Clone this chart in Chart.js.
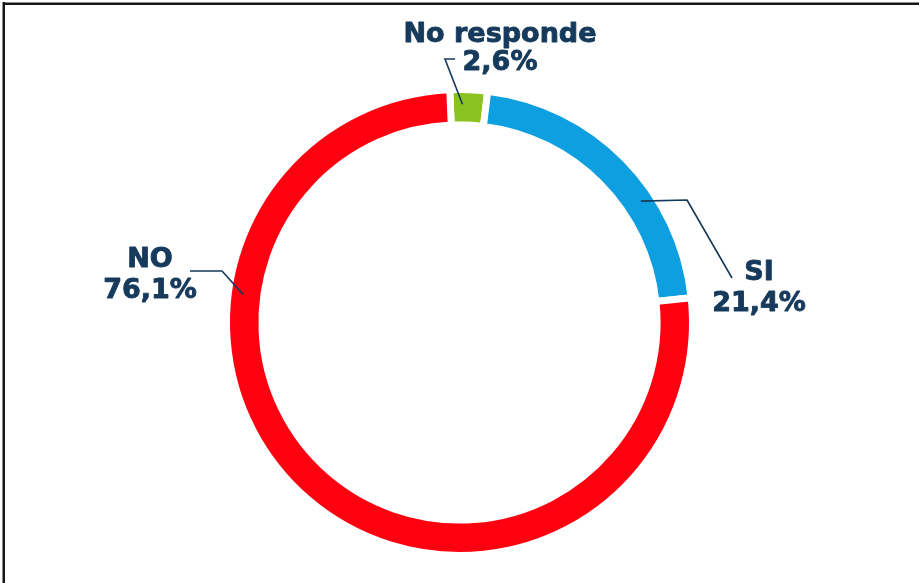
<!DOCTYPE html>
<html lang="es">
<head>
<meta charset="utf-8">
<title>Encuesta</title>
<script src="https://cdn.jsdelivr.net/npm/chart.js@4.4.1/dist/chart.umd.min.js"></script>
<style>
    html, body {
        margin: 0;
        padding: 0;
        width: 919px;
        height: 583px;
        background: #fff;
        overflow: hidden;
    }
    .frame-top, .frame-left {
        position: absolute;
        background: #161616;
    }
    .frame-top {
        left: 3px;
        top: 3px;
        width: 916px;
        height: 2px;
        border-top: 1px solid #8a8a8a;
        top: 2px;
    }
    .frame-left {
        left: 2px;
        top: 2px;
        width: 2px;
        height: 581px;
        border-left: 1px solid #8a8a8a;
    }
    .chart-box {
        position: absolute;
        left: 0;
        top: 0;
        width: 919px;
        height: 583px;
    }
</style>
</head>
<body>
<div class="frame-top"></div>
<div class="frame-left"></div>
<div class="chart-box">
    <canvas id="mainChart"></canvas>
</div>
<script>
// Respuestas de la encuesta (porcentaje)
const labels = ['No responde', 'SI', 'NO'];
const values = [2.6, 21.4, 76.1];
const colors = ['#8cc21f', '#0d9fe0', '#fe0010'];

// Posicion de cada etiqueta y de su linea guia
const calloutStyle = [
    { along: 0.34, elbow: [445, 59], end: [455, 59], cx: 500, y: 42, gap: 28 },
    { along: 0.64, elbow: [687, 200], end: [732, 278], cx: 759, y: 280, gap: 31 },
    { along: 0.707, elbow: [222, 271], end: [190, 271], cx: 150, y: 267, gap: 31 }
];

const textColor = '#153a5b';

const calloutPlugin = {
    id: 'callouts',
    afterDatasetsDraw(chart) {
        const ctx = chart.ctx;
        const arcs = chart.getDatasetMeta(0).data;

        ctx.save();
        arcs.forEach((arc, i) => {
            const p = arc.getProps(['x', 'y', 'startAngle', 'endAngle', 'innerRadius', 'outerRadius'], true);
            const s = calloutStyle[i];
            const angle = p.startAngle + (p.endAngle - p.startAngle) * s.along;
            const r = (p.innerRadius + p.outerRadius) / 2 + 3;
            const ax = p.x + r * Math.cos(angle);
            const ay = p.y + r * Math.sin(angle);

            ctx.beginPath();
            ctx.moveTo(ax, ay);
            ctx.lineTo(s.elbow[0], s.elbow[1]);
            ctx.lineTo(s.end[0], s.end[1]);
            ctx.strokeStyle = textColor;
            ctx.lineWidth = 1.6;
            ctx.stroke();

            const pct = values[i].toFixed(1).replace('.', ',') + '%';
            ctx.fillStyle = textColor;
            ctx.lineWidth = 0.9;
            ctx.lineJoin = 'round';
            ctx.font = 'bold 27px "DejaVu Sans"';
            ctx.textAlign = 'center';
            ctx.textBaseline = 'alphabetic';
            ctx.fillText(labels[i], s.cx, s.y);
            ctx.strokeText(labels[i], s.cx, s.y);
            ctx.fillText(pct, s.cx, s.y + s.gap);
            ctx.strokeText(pct, s.cx, s.y + s.gap);
        });
        ctx.restore();
    }
};

const ctx = document.getElementById('mainChart').getContext('2d');

new Chart(ctx, {
    type: 'doughnut',
    data: {
        labels: labels,
        datasets: [{
            data: values,
            backgroundColor: colors,
            borderColor: '#ffffff',
            borderWidth: 7,
            borderAlign: 'center'
        }]
    },
    options: {
        responsive: true,
        maintainAspectRatio: false,
        animation: false,
        events: [],
        rotation: -2.4,
        cutout: '84.8%',
        layout: {
            padding: { top: 86, bottom: 24, left: 223, right: 223 }
        },
        plugins: {
            legend: { display: false },
            tooltip: { enabled: false }
        }
    },
    plugins: [calloutPlugin]
});
</script>
</body>
</html>
